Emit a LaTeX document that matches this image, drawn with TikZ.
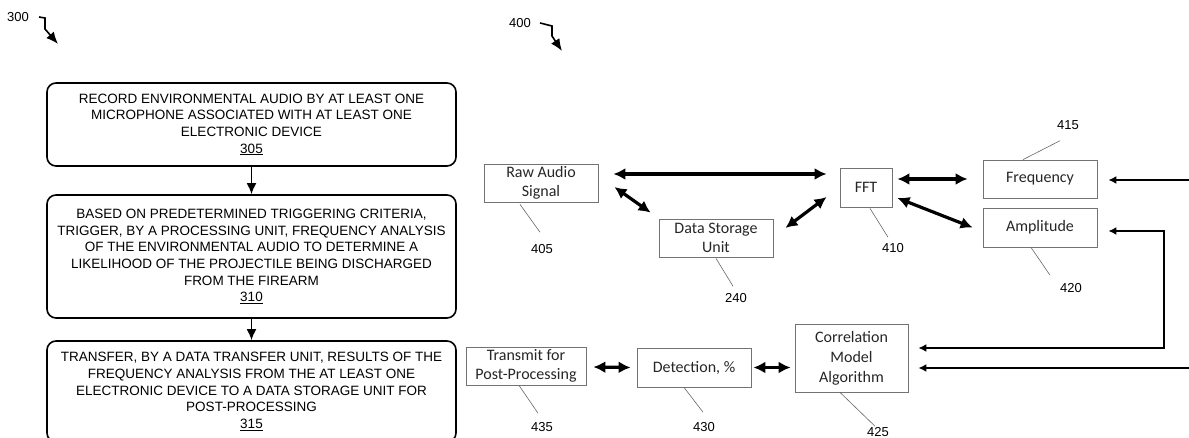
\documentclass[tikz,border=0pt]{standalone}
\usepackage{fontspec}
\setmainfont{Liberation Sans}
\newfontfamily\calfont{Carlito}
\usetikzlibrary{arrows.meta,calc}

\begin{document}
\begin{tikzpicture}[x=1pt,y=-1pt,
  stepbox/.style={draw=black, line width=1.6pt, rounded corners=9pt,
    minimum width=409pt, align=center, inner sep=0pt,
    font=\fontsize{13.5}{16.6}\selectfont},
  blockbox/.style={draw=black!55, line width=0.8pt, align=center, inner sep=0pt,
    text=black!85, font=\calfont\fontsize{16}{19}\selectfont},
  reflabel/.style={font=\fontsize{13}{15}\selectfont, inner sep=0pt},
  leader/.style={draw=black!60, line width=0.6pt},
  flow/.style={-{Latex[length=11pt,width=10pt]}, line width=1.8pt},
  dbl/.style={{Latex[length=12pt,width=12pt]}-{Latex[length=12pt,width=12pt]}, line width=3.2pt},
  feed/.style={-{Latex[length=8pt,width=8pt]}, line width=2.6pt},
  hook/.style={-{Latex[length=12pt,width=10pt]}, line width=1.6pt},
]
\clip (0,0) rectangle (1189,438);

% ---------- flow chart 300 ----------
\node[reflabel] (l300) at (18,17) {300};
\draw[hook] ([xshift=10pt]l300.east) -- (45,18) -- (45,29) -- (58,44);

\node[stepbox, minimum height=83pt] (s305) at (251.5,124.5)
  {RECORD ENVIRONMENTAL AUDIO BY AT LEAST ONE\\
   MICROPHONE ASSOCIATED WITH AT LEAST ONE\\
   ELECTRONIC DEVICE\\ \underline{305}};
\node[stepbox, minimum height=123pt] (s310) at (251.5,256.5)
  {BASED ON PREDETERMINED TRIGGERING CRITERIA,\\
   TRIGGER, BY A PROCESSING UNIT, FREQUENCY ANALYSIS\\
   OF THE ENVIRONMENTAL AUDIO TO DETERMINE A\\
   LIKELIHOOD OF THE PROJECTILE BEING DISCHARGED\\
   FROM THE FIREARM\\ \underline{310}};
\node[stepbox, minimum height=101pt] (s315) at (251.5,391.5)
  {TRANSFER, BY A DATA TRANSFER UNIT, RESULTS OF THE\\
   FREQUENCY ANALYSIS FROM THE AT LEAST ONE\\
   ELECTRONIC DEVICE TO A DATA STORAGE UNIT FOR\\
   POST-PROCESSING\\ \underline{315}};

\draw[flow] (s305) -- (s310);
\draw[flow] (s310) -- (s315);

% ---------- block diagram 400 ----------
\node[reflabel] (l400) at (520,23) {400};
\draw[hook] ([xshift=9pt]l400.east) -- (552,26) -- (552,36) -- (562,51);

\node[blockbox, minimum width=114pt, minimum height=38pt] (raw) at (541,183)
  {Raw Audio\\Signal};
\node[blockbox, minimum width=114pt, minimum height=38pt] (dsu) at (716,238)
  {Data Storage\\Unit};
\node[blockbox, minimum width=52pt, minimum height=39pt] (fft) at (866,187.5)
  {FFT};
\node[blockbox, minimum width=114pt, minimum height=38pt] (freq) at (1040,179)
  {Frequency};
\node[blockbox, minimum width=114pt, minimum height=39pt] (amp) at (1040,227.5)
  {Amplitude};
\node[blockbox, minimum width=113pt, minimum height=68pt, font=\calfont\fontsize{16}{20}\selectfont] (corr) at (851.5,358)
  {Correlation\\Model\\Algorithm};
\node[blockbox, minimum width=120pt, minimum height=38pt] (tx) at (526,366)
  {Transmit for\\Post-Processing};
\node[blockbox, minimum width=114pt, minimum height=39pt] (det) at (694,367.5)
  {Detection, \%};

% connectors
\draw[dbl] ([shift={(15,-9)}]raw.east) -- ([shift={(-13,-13.5)}]fft.west);
\draw[dbl] ([shift={(16,4)}]raw.east) -- ([shift={(-8,-6)}]dsu.north west);
\draw[dbl] ([shift={(12,-10)}]dsu.east) -- ([shift={(-13,9.5)}]fft.west);
\draw[dbl] ([shift={(5,-8.5)}]fft.east) -- ([shift={(-15,0)}]freq.west);
\draw[dbl] ([shift={(5,10.5)}]fft.east) -- ([shift={(-10,0)}]amp.west);
\draw[dbl] ([shift={(7,1)}]tx.east) -- ([shift={(-6,0)}]det.west);
\draw[dbl] ([shift={(2,0)}]det.east) -- ([shift={(-4,0)}]corr.west |- det.west);

\coordinate (inF) at (1192,180);
\coordinate (inC) at (1192,368);
\coordinate (bend) at (1164,231);
\draw[feed] (inF) -- ([shift={(11,1)}]freq.east);
\draw[feed] (inC) -- ([shift={(10,10)}]corr.east);
\draw[feed, {Latex[length=8pt,width=8pt]}-{Latex[length=8pt,width=8pt]}]
  ([shift={(11,3.5)}]amp.east) -- (bend) |- ([shift={(10,-10)}]corr.east);

% reference numerals and leader lines
\node[reflabel] (l405) at (542,249) {405};
\node[reflabel] (l240) at (736,298) {240};
\node[reflabel] (l410) at (893,248) {410};
\node[reflabel] (l415) at (1068,125) {415};
\node[reflabel] (l420) at (1071,288) {420};
\node[reflabel] (l435) at (542,427) {435};
\node[reflabel] (l430) at (704,427) {430};
\node[reflabel] (l425) at (878,432) {425};

\draw[leader] ([shift={(-21,2)}]raw.south) -- ([shift={(-2,-12)}]l405.north);
\draw[leader] ([shift={(0,1)}]dsu.south) -- ([shift={(-3,-7)}]l240.north);
\draw[leader] ([shift={(4,1)}]fft.south) -- ([shift={(-5,-6)}]l410.north);
\draw[leader] ([shift={(-17,0)}]freq.north) -- ([shift={(-8,11)}]l415.south);
\draw[leader] ([shift={(-9,0)}]amp.south) -- ([shift={(-21,-8)}]l420.north);
\draw[leader] ([shift={(-7,0)}]tx.south) -- ([shift={(-4,-9)}]l435.north);
\draw[leader] ([shift={(-10,0)}]det.south) -- ([shift={(-1,-10)}]l430.north);
\draw[leader] ([shift={(-11.5,0)}]corr.south) -- ([shift={(-3,-1)}]l425.north);
\end{tikzpicture}
\end{document}
